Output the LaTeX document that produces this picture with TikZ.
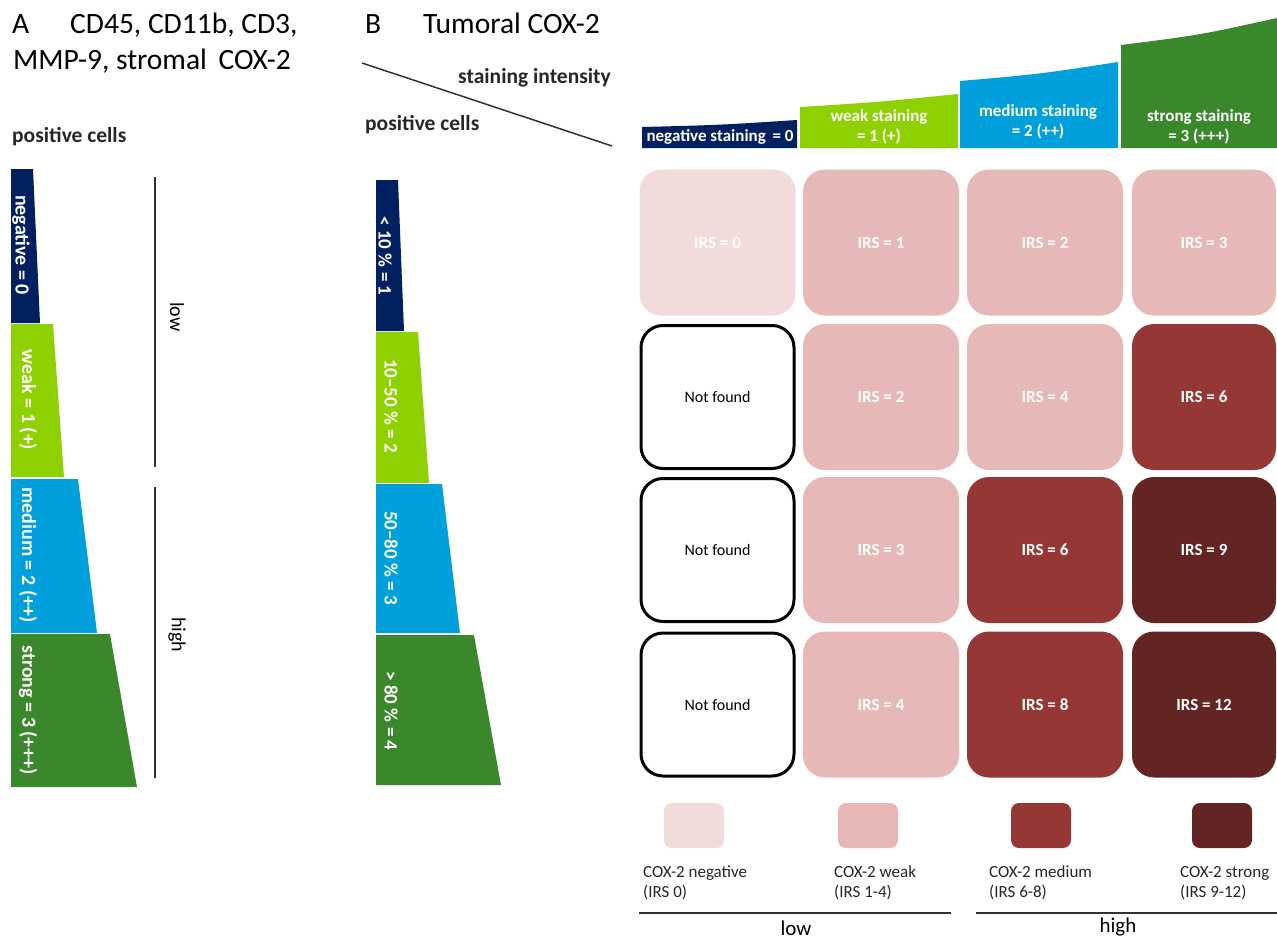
\documentclass[tikz,border=0pt]{standalone}
\usepackage{fontspec}
\setmainfont{Carlito}
\definecolor{navy}{RGB}{0,32,96}
\definecolor{lime}{RGB}{142,208,0}
\definecolor{sky}{RGB}{0,160,220}
\definecolor{dgreen}{RGB}{59,135,44}
\definecolor{pinkA}{RGB}{242,220,219}
\definecolor{pinkB}{RGB}{230,185,184}
\definecolor{redC}{RGB}{149,55,53}
\definecolor{redD}{RGB}{99,37,35}
\definecolor{linegray}{RGB}{50,50,50}
\tikzset{
  title/.style={font=\fontsize{29.5}{33}\selectfont, anchor=base west, inner sep=0pt},
  sublbl/.style={font=\fontsize{21.5}{25}\selectfont\bfseries, anchor=base west, inner sep=0pt, text=black!85},
  barlbl/.style={text=white, font=\fontsize{20}{24}\selectfont\bfseries, rotate=-90, inner sep=0pt},
  barlblB/.style={text=white, font=\fontsize{19}{23}\selectfont\bfseries, rotate=-90, inner sep=0pt},
  sidelbl/.style={font=\fontsize{20}{24}\selectfont, rotate=-90, inner sep=0pt},
  hdrlbl/.style={text=white, font=\fontsize{17}{20}\selectfont\bfseries, align=center, inner sep=0pt},
  cell/.style={rounded corners=22pt, minimum width=156pt, minimum height=146pt, inner sep=0pt, text=white, font=\fontsize{17}{20}\selectfont\bfseries},
  nfcell/.style={cell, draw=black, line width=3pt, fill=white, text=black, font=\fontsize{16}{19}\selectfont, minimum width=153pt, minimum height=143pt},
  legsq/.style={rounded corners=8pt, minimum width=60pt, minimum height=45pt, inner sep=0pt},
  legtxt/.style={font=\fontsize{17}{20}\selectfont, anchor=base west, inner sep=0pt, text=black!85},
  rule/.style={draw=linegray, line width=1.5pt},
}
\begin{document}
\begin{tikzpicture}[x=1pt,y=-1pt]
\useasboundingbox (0,0) rectangle (1277,940);

% ---------- Panel A ----------
\node[title] (tA) at (12,33) {A};
\node[title] (tA1) at (70,33) {CD45, CD11b, CD3,};
\node[title] (tA2) at (13,69) {MMP-9, stromal\, COX-2};
\node[sublbl] (pcA) at (12,142) {positive cells};

\fill[navy]   (11,169) -- (33,169) -- (40,323) -- (11,323) -- cycle;
\fill[lime]   (11,324) -- (53,324) -- (64,477) -- (11,477) -- cycle;
\fill[sky]    (11,479) -- (78,479) -- (97,633) -- (11,633) -- cycle;
\fill[dgreen] (11,634) -- (110,634) -- (137,787) -- (11,787) -- cycle;
\node[barlbl] (a1) at (21,245) {negative = 0};
\node[barlbl] (a2) at (28,400) {weak = 1 (+)};
\node[barlbl] (a3) at (28,555) {medium = 2 (++)};
\node[barlbl] (a4) at (28,710) {strong = 3 (+++)};

\coordinate (lowTop) at (155,177);
\coordinate (lowBot) at (155,467);
\coordinate (highTop) at (155,487);
\coordinate (highBot) at (155,778);
\draw[rule] (lowTop) -- (lowBot);
\draw[rule] (highTop) -- (highBot);
\node[sidelbl] (lowA) at (177,317) {low};
\node[sidelbl] (highA) at (177,635) {high};

% ---------- Panel B ----------
\node[title] (tB) at (365,33) {B};
\node[title] (tB1) at (423,33) {Tumoral COX-2};
\coordinate (diagA) at (362,63);
\coordinate (diagB) at (612,146);
\draw[rule] (diagA) -- (diagB);
\node[sublbl] (si) at (458,83) {staining intensity};
\node[sublbl] (pcB) at (365,130) {positive cells};

\fill[navy]   (376,180) -- (398,180) -- (404,331) -- (376,331) -- cycle;
\fill[lime]   (376,332) -- (418,332) -- (429,483) -- (376,483) -- cycle;
\fill[sky]    (376,484) -- (442,484) -- (460,633) -- (376,633) -- cycle;
\fill[dgreen] (376,635) -- (474,635) -- (501,785) -- (376,785) -- cycle;
\node[barlblB] (b1) at (385,256) {< 10 \% = 1};
\node[barlblB] (b2) at (391,406) {10--50 \% = 2};
\node[barlblB] (b3) at (391,558) {50--80 \% = 3};
\node[barlblB] (b4) at (391,711) {> 80 \% = 4};

% header bars
\fill[navy]   (642,148) -- (642,127) .. controls (720,125) .. (797,120) -- (797,148) -- cycle;
\fill[lime]   (800,148) -- (800,107) .. controls (880,102) .. (958,94) -- (958,148) -- cycle;
\fill[sky]    (960,148) -- (960,81) .. controls (1040,74) .. (1118,62) -- (1118,148) -- cycle;
\fill[dgreen] (1121,148) -- (1121,45) .. controls (1200,35) .. (1277,18) -- (1277,148) -- cycle;
\node[hdrlbl] (h0) at (720,137) {negative staining\, = 0};
\node[hdrlbl] (h1) at (879,127) {weak staining\\= 1 (+)};
\node[hdrlbl] (h2) at (1038,122) {medium staining\\= 2 (++)};
\node[hdrlbl] (h3) at (1199,127) {strong staining\\= 3 (+++)};

% grid
\node[cell, fill=pinkA] (c11) at (717.5,242.5) {IRS = 0};
\node[cell, fill=pinkB] (c12) at (881,242.5) {IRS = 1};
\node[cell, fill=pinkB] (c13) at (1045,242.5) {IRS = 2};
\node[cell, fill=pinkB, minimum width=144pt] (c14) at (1204,242.5) {IRS = 3};

\node[nfcell] (c21) at (717.5,397) {Not found};
\node[cell, fill=pinkB] (c22) at (881,397) {IRS = 2};
\node[cell, fill=pinkB] (c23) at (1045,397) {IRS = 4};
\node[cell, fill=redC, minimum width=144pt] (c24) at (1204,397) {IRS = 6};

\node[nfcell] (c31) at (717.5,550) {Not found};
\node[cell, fill=pinkB] (c32) at (881,550) {IRS = 3};
\node[cell, fill=redC] (c33) at (1045,550) {IRS = 6};
\node[cell, fill=redD, minimum width=144pt] (c34) at (1204,550) {IRS = 9};

\node[nfcell] (c41) at (717.5,704.5) {Not found};
\node[cell, fill=pinkB] (c42) at (881,704.5) {IRS = 4};
\node[cell, fill=redC] (c43) at (1045,704.5) {IRS = 8};
\node[cell, fill=redD, minimum width=144pt] (c44) at (1204,704.5) {IRS = 12};

% legend
\node[legsq, fill=pinkA] (l1) at (694,825.5) {};
\node[legsq, fill=pinkB] (l2) at (868,825.5) {};
\node[legsq, fill=redC]  (l3) at (1041,825.5) {};
\node[legsq, fill=redD]  (l4) at (1222,825.5) {};
\node[legtxt] (t1a) at (643,877) {COX-2 negative};
\node[legtxt] (t1b) at (643,897) {(IRS 0)};
\node[legtxt] (t2a) at (834,877) {COX-2 weak};
\node[legtxt] (t2b) at (834,897) {(IRS 1-4)};
\node[legtxt] (t3a) at (989,877) {COX-2 medium};
\node[legtxt] (t3b) at (989,897) {(IRS 6-8)};
\node[legtxt] (t4a) at (1180,877) {COX-2 strong};
\node[legtxt] (t4b) at (1180,897) {(IRS 9-12)};

\coordinate (lowL) at (639,913);
\coordinate (lowR) at (951,913);
\coordinate (highL) at (976,913);
\coordinate (highR) at (1277,913);
\draw[rule] (lowL) -- (lowR);
\draw[rule] (highL) -- (highR);
\node[font=\fontsize{21}{24}\selectfont, inner sep=0pt] (lowB) at (796,928) {low};
\node[font=\fontsize{21}{24}\selectfont, inner sep=0pt] (highB) at (1118,927) {high};
\end{tikzpicture}
\end{document}
